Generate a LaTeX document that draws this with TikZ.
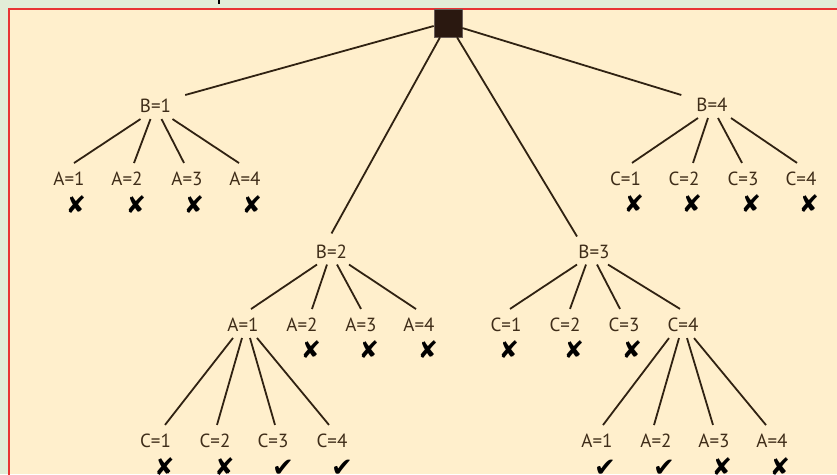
\documentclass[tikz,border=0pt]{standalone}
\usepackage{fontspec}
\setmainfont{PT Sans}
\newfontfamily\symfont{DejaVu Sans}
\definecolor{bggreen}{RGB}{226,237,215}
\definecolor{panel}{RGB}{255,239,204}
\definecolor{redline}{RGB}{232,52,52}
\definecolor{labc}{RGB}{62,44,24}
\definecolor{edgec}{RGB}{48,34,18}
\definecolor{rootc}{RGB}{42,24,16}
\begin{document}
\begin{tikzpicture}[x=1pt,y=-1pt,
  lab/.style={text=labc,font=\fontsize{19}{19}\selectfont,inner sep=0pt},
  nomark/.style={text=black,font=\symfont\fontsize{24}{24}\selectfont,inner sep=0pt},
  yesmark/.style={text=black,font=\symfont\fontsize{26}{26}\selectfont,inner sep=0pt},
  edge/.style={draw=edgec,line width=1.8pt},
  rootbox/.style={fill=rootc,draw=rootc!70!white,line width=0.6pt,minimum size=28pt,inner sep=0pt}]
\useasboundingbox (0,0) rectangle (837,474);
\fill[bggreen] (0,0) rectangle (837,474);
\fill[panel] (9,9) rectangle (837,474);
\draw[redline,line width=2pt] (9,475) -- (9,9) -- (837,9);
\draw[black,line width=2pt] (219,0) -- (219,4);

% root
\node[rootbox] (root) at (448,23) {};

% tier 1
\node[lab] (b1) at (155.5,106) {B=1};
\node[lab] (b4) at (712,105) {B=4};
% tier 2
\node[lab] (b2) at (331.5,251.5) {B=2};
\node[lab] (b3) at (594,251.5) {B=3};

% children of B=1
\node[lab] (b1a1) at (69,179) {A=1};
\node[lab] (b1a2) at (127,179) {A=2};
\node[lab] (b1a3) at (187,179) {A=3};
\node[lab] (b1a4) at (245,179) {A=4};
% children of B=4
\node[lab] (b4c1) at (625.5,179) {C=1};
\node[lab] (b4c2) at (684,179) {C=2};
\node[lab] (b4c3) at (743,179) {C=3};
\node[lab] (b4c4) at (801,179) {C=4};
% children of B=2
\node[lab] (b2a1) at (243,325) {A=1};
\node[lab] (b2a2) at (302,325) {A=2};
\node[lab] (b2a3) at (361,325) {A=3};
\node[lab] (b2a4) at (419,325) {A=4};
% children of B=3
\node[lab] (b3c1) at (506,325) {C=1};
\node[lab] (b3c2) at (565,325) {C=2};
\node[lab] (b3c3) at (624,325) {C=3};
\node[lab] (b3c4) at (683,325) {C=4};
% children of A=1 (under B=2)
\node[lab] (lc1) at (155.5,441) {C=1};
\node[lab] (lc2) at (215,441) {C=2};
\node[lab] (lc3) at (273,441) {C=3};
\node[lab] (lc4) at (332,441) {C=4};
% children of C=4 (under B=3)
\node[lab] (ra1) at (597,441) {A=1};
\node[lab] (ra2) at (656,441) {A=2};
\node[lab] (ra3) at (714,441) {A=3};
\node[lab] (ra4) at (772,441) {A=4};

% marks
\node[nomark] (mb1a1) at (76,205) {✘};
\node[nomark] (mb1a2) at (136,205) {✘};
\node[nomark] (mb1a3) at (194,205) {✘};
\node[nomark] (mb1a4) at (252,205) {✘};
\node[nomark] (mb4c1) at (634,204) {✘};
\node[nomark] (mb4c2) at (692,204) {✘};
\node[nomark] (mb4c3) at (751,204) {✘};
\node[nomark] (mb4c4) at (809,204) {✘};
\node[nomark] (mb2a2) at (311,350) {✘};
\node[nomark] (mb2a3) at (369,350) {✘};
\node[nomark] (mb2a4) at (428,350) {✘};
\node[nomark] (mb3c1) at (509,350) {✘};
\node[nomark] (mb3c2) at (574,350) {✘};
\node[nomark] (mb3c3) at (632,350) {✘};
\node[nomark] (mlc1) at (164.5,467) {✘};
\node[nomark] (mlc2) at (224.5,467) {✘};
\node[yesmark] (mlc3) at (283,468) {✔};
\node[yesmark] (mlc4) at (342,468) {✔};
\node[yesmark] (mra1) at (605,468) {✔};
\node[yesmark] (mra2) at (664,468) {✔};
\node[nomark] (mra3) at (722,467) {✘};
\node[nomark] (mra4) at (780,467) {✘};

% root edges
\draw[edge] ([yshift=-3pt]root.west) -- ([xshift=14pt,yshift=11pt]b1.east);
\draw[edge] ([yshift=-5pt]root.east) -- ([xshift=-15pt,yshift=10pt]b4.west);
\draw[edge] ([xshift=-8pt]root.south) -- ([xshift=0pt,yshift=11pt]b2.north);
\draw[edge] ([xshift=9pt]root.south) -- ([xshift=-17pt,yshift=8pt]b3.north);

% fan-out edges
\foreach \p/\c/\s/\e in {b1/b1a1/-15/5, b1/b1a2/-5/7, b1/b1a3/6/-3, b1/b1a4/17/-6,
  b4/b4c1/-14/6.5, b4/b4c2/-4/9, b4/b4c3/6/-1, b4/b4c4/19/-4,
  b2/b2a1/-14.5/8, b2/b2a2/-4.5/10, b2/b2a3/5.5/0, b2/b2a4/17.5/-3,
  b3/b3c1/-17/4, b3/b3c2/-8/5, b3/b3c3/3/-4, b3/b3c4/14/-3,
  b2a1/lc1/-10/9.5, b2a1/lc2/-1/2, b2a1/lc3/7/2, b2a1/lc4/14/-3,
  b3c4/ra1/-14/6, b3c4/ra2/-4/-2, b3c4/ra3/4/-1, b3c4/ra4/11/-6}
  \draw[edge] ([xshift=\s pt,yshift=-6pt]\p.south) -- ([xshift=\e pt,yshift=9pt]\c.north);
\end{tikzpicture}
\end{document}
